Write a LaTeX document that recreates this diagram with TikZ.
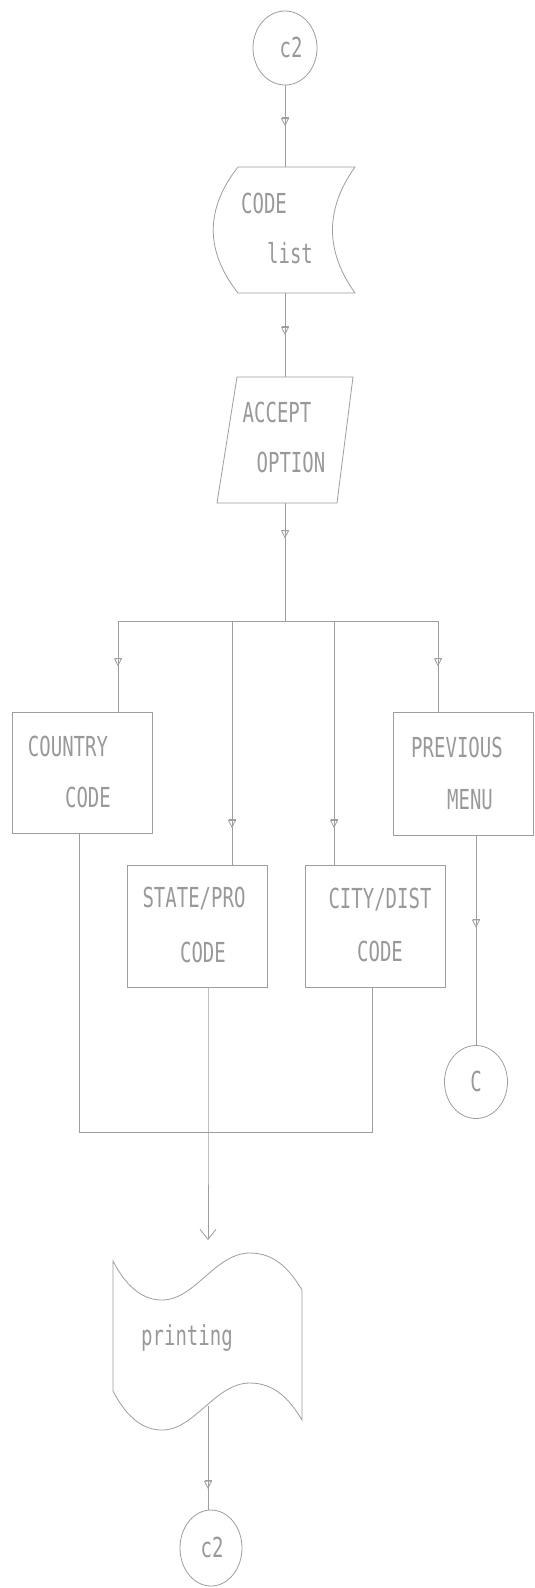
\documentclass[tikz,border=0pt]{standalone}
\usepackage{fontspec}
\usepackage{graphicx}
\setmonofont{DejaVu Sans Mono}
\usetikzlibrary{arrows.meta,decorations.markings,shapes.geometric}
\newcommand\dmtext[1]{\scalebox{1}[1.45]{#1}}
\tikzset{
  ln/.style={draw=black!38, line width=0.8pt},
  txt/.style={text=black!40, font=\ttfamily\fontsize{19}{19}\selectfont, inner sep=0pt},
  stepbox/.style={ln, rectangle, minimum width=140pt, minimum height=122pt, inner sep=0pt},
  conn/.style={ellipse, ln, inner sep=0pt},
  midarrow/.style={postaction={decorate}, decoration={markings,
     mark=at position #1 with {\arrow[black!38]{Bar[width=7pt] Triangle[open,length=8pt,width=8pt]}}}}
}
\begin{document}
\begin{tikzpicture}[x=1pt,y=-1pt]
\useasboundingbox (0,0) rectangle (535,1588);
\fill[white] (0,0) rectangle (535,1588);

% top connector
\node[conn, minimum width=64pt, minimum height=74pt] (c2top) at (285,48) {};
\node[txt] (c2topt) at (291,47) {\dmtext{c2}};

% CODE list (stored data)
\draw[ln] (238,167) -- (355,167) .. controls (325,209) and (325,251) .. (355,293)
  -- (238,293) .. controls (205,251) and (205,209) .. (238,167);
\coordinate (clT) at (285,167);
\coordinate (clB) at (285,293);
\node[txt] (clt1) at (264,203) {\dmtext{CODE}};
\node[txt] (clt2) at (290,253) {\dmtext{list}};

% ACCEPT OPTION (parallelogram)
\draw[ln] (237,377) -- (353,377) -- (337,503) -- (217,503) -- cycle;
\coordinate (acT) at (285,377);
\coordinate (acB) at (285,503);
\node[txt] (act1) at (277,412) {\dmtext{ACCEPT}};
\node[txt] (act2) at (291,462) {\dmtext{OPTION}};

% bus
\coordinate (bus) at (285,621);
\coordinate (busL) at (118,621);
\coordinate (busS) at (232,621);
\coordinate (busC) at (334,621);
\coordinate (busR) at (438,621);

% boxes
\node[stepbox, minimum height=121pt] (country) at (82,772.5) {};
\node[txt] (cot1) at (68,746) {\dmtext{COUNTRY}};
\node[txt] (cot2) at (88,797) {\dmtext{CODE}};

\node[stepbox, minimum height=123pt] (prev) at (463,773.5) {};
\node[txt] (prt1) at (457,747) {\dmtext{PREVIOUS}};
\node[txt] (prt2) at (470,800) {\dmtext{MENU}};

\node[stepbox] (state) at (197,926) {};
\node[txt] (stt1) at (194,899) {\dmtext{STATE/PRO}};
\node[txt] (stt2) at (203,952) {\dmtext{CODE}};

\node[stepbox] (city) at (375,926) {};
\node[txt] (cit1) at (380,900) {\dmtext{CITY/DIST}};
\node[txt] (cit2) at (380,951) {\dmtext{CODE}};

% connector C
\node[conn, minimum width=63pt, minimum height=73pt] (cc) at (476,1082) {};
\node[txt] (cct) at (476,1081) {\dmtext{C}};

% printing (punched tape)
\draw[ln] (113,1261) .. controls (128,1290) and (145,1300) .. (162,1300)
  .. controls (195,1300) and (215,1253) .. (250,1253)
  .. controls (275,1253) and (290,1270) .. (302,1290)
  -- (302,1420)
  .. controls (290,1400) and (275,1383) .. (250,1383)
  .. controls (215,1383) and (195,1430) .. (162,1430)
  .. controls (145,1430) and (128,1420) .. (113,1391) -- cycle;
\coordinate (prIn) at (208,1240);
\coordinate (prOut) at (208,1406);
\node[txt] (prt) at (187,1338) {\dmtext{printing}};

% bottom connector
\node[conn, minimum width=62pt, minimum height=76pt] (c2bot) at (211,1548) {};
\node[txt] (c2bott) at (212,1547) {\dmtext{c2}};

% collector
\coordinate (colL) at (79,1132);
\coordinate (colS) at (208,1132);
\coordinate (colR) at (372,1132);

% connectors
\draw[ln, midarrow=0.5] (c2top.south) -- (clT);
\draw[ln, midarrow=0.5] (clB) -- (acT);
\draw[ln, midarrow=0.3] (acB) -- (bus);
\draw[ln] (busL) -- (busR);
\draw[ln, midarrow=0.5] (busL) -- (busL |- country.north);
\draw[ln, midarrow=0.5] (busR) -- (busR |- prev.north);
\draw[ln, midarrow=0.85] (busS) -- (busS |- state.north);
\draw[ln, midarrow=0.85] (busC) -- (busC |- city.north);
\draw[ln, midarrow=0.44] (prev.south -| cc.north) -- (cc.north);
\draw[ln] (country.south -| colL) -- (colL) -- (colR) -- (city.south -| colR);
\draw[ln, -{Straight Barb[length=10pt,width=16pt]}] (state.south -| colS) -- (colS) -- (prIn);
\draw[ln, midarrow=0.8] (prOut) -- (prOut |- c2bot.north);
\end{tikzpicture}
\end{document}
